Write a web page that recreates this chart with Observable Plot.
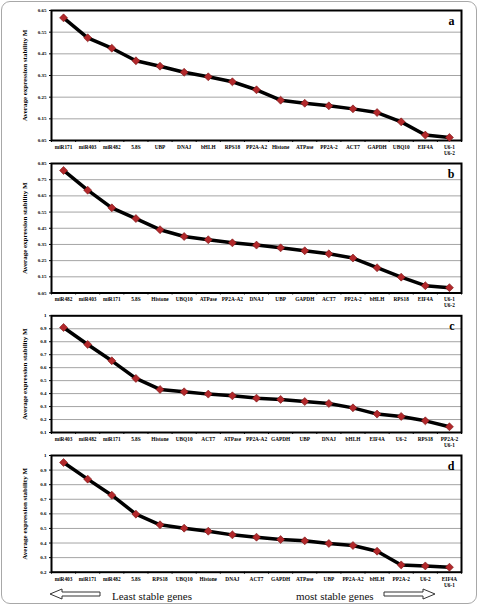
<!DOCTYPE html>
<html><head><meta charset="utf-8">
<script src="https://cdn.jsdelivr.net/npm/d3@7"></script>
<script src="https://cdn.jsdelivr.net/npm/@observablehq/plot@0.6"></script>
<style>
body{margin:0;background:#fff;}
#wrap{position:relative;width:481px;height:606px;overflow:hidden;}
#frame{position:absolute;left:1px;top:1px;width:476px;height:603px;border:1px solid #a8a8a8;border-radius:9px;box-sizing:border-box;}
#wrap svg{position:absolute;left:0;}
</style></head><body><div id="wrap"><div id="frame"></div></div>
<script>
// Panel a
const genesA = ["miR171","miR403","miR482","5.8S","UBP","DNAJ","bHLH","RPS18","PP2A-A2","Histone","ATPase","PP2A-2","ACT7","GAPDH","UBQ10","EIF4A","U6-1\nU6-2"];
const valuesA = [0.616,0.524,0.476,0.418,0.393,0.365,0.344,0.321,0.284,0.236,0.222,0.210,0.196,0.179,0.136,0.075,0.064];
const ticksA = [0.05,0.15,0.25,0.35,0.45,0.55,0.65];
// Panel b
const genesB = ["miR482","miR403","miR171","5.8S","Histone","UBQ10","ATPase","PP2A-A2","DNAJ","UBP","GAPDH","ACT7","PP2A-2","bHLH","RPS18","EIF4A","U6-1\nU6-2"];
const valuesB = [0.807,0.685,0.576,0.510,0.441,0.399,0.379,0.360,0.346,0.329,0.311,0.292,0.266,0.206,0.148,0.095,0.083];
const ticksB = [0.05,0.15,0.25,0.35,0.45,0.55,0.65,0.75,0.85];
// Panel c
const genesC = ["miR403","miR482","miR171","5.8S","Histone","UBQ10","ACT7","ATPase","PP2A-A2","GAPDH","UBP","DNAJ","bHLH","EIF4A","U6-2","RPS18","PP2A-2\nU6-1"];
const valuesC = [0.910,0.779,0.653,0.517,0.432,0.414,0.396,0.383,0.365,0.355,0.339,0.324,0.290,0.242,0.224,0.190,0.144];
const ticksC = [0.1,0.2,0.3,0.4,0.5,0.6,0.7,0.8,0.9,1];
// Panel d
const genesD = ["miR403","miR171","miR482","5.8S","RPS18","UBQ10","Histone","DNAJ","ACT7","GAPDH","ATPase","UBP","PP2A-A2","bHLH","PP2A-2","U6-2","EIF4A\nU6-1"];
const valuesD = [0.952,0.838,0.728,0.598,0.525,0.502,0.481,0.456,0.440,0.424,0.415,0.397,0.383,0.344,0.250,0.243,0.234];
const ticksD = [0.2,0.3,0.4,0.5,0.6,0.7,0.8,0.9,1];

const yTitle = "Average expression stability M";
const serif = "'Liberation Serif','Times New Roman',serif";

function panel(genes, values, yTicks, letter, top, marginTop, frameH, height) {
  const n = genes.length;
  const idx = d3.range(n);
  const data = values.map((v, i) => ({i, v}));
  const chart = Plot.plot({
    width: 481, height,
    marginLeft: 51, marginRight: 20, marginTop,
    marginBottom: height - marginTop - frameH,
    style: {fontFamily: serif, background: "transparent", overflow: "visible", color: "#000"},
    x: {domain: [-0.5, n - 0.5], axis: null},
    y: {domain: [yTicks[0], yTicks[yTicks.length - 1]], axis: null},
    marks: [
      Plot.gridY(yTicks.slice(1, -1), {stroke: "#a4a4a4", strokeOpacity: 1, strokeWidth: 1}),
      Plot.axisY(yTicks, {tickSize: 2, tickPadding: 3, fontSize: 5, fontWeight: "bold", label: null,
        tickFormat: d => String(+d.toFixed(2))}),
      Plot.axisX(idx, {tickSize: 0, tickPadding: 4, fontSize: 5.3, fontWeight: "bold", label: null,
        lineHeight: 1.15, tickFormat: i => genes[i]}),
      Plot.axisX(d3.range(n + 1).map(i => i - 0.5), {tickSize: 2, tickFormat: () => "", label: null}),
      Plot.frame({stroke: "#000", strokeWidth: 2}),
      Plot.line(data, {x: "i", y: "v", stroke: "#000", strokeWidth: 3.5, curve: "linear"}),
      Plot.dot(data, {x: "i", y: "v", symbol: "diamond2", r: 3.6, fill: "#b2282b", stroke: "#7a1515", strokeWidth: 0.6}),
      Plot.text([letter], {frameAnchor: "top-right", dx: -7, dy: 6, fontSize: 12, fontWeight: "bold"}),
      Plot.text([yTitle], {frameAnchor: "left", textAnchor: "middle", lineAnchor: "middle", rotate: -90, dx: -27, fontSize: 7, fontWeight: "bold"})
    ]
  });
  chart.style.top = top + "px";
  document.getElementById("wrap").appendChild(chart);
}

panel(genesA, valuesA, ticksA, "a", 0, 10, 130, 156);
panel(genesB, valuesB, ticksB, "b", 156, 7, 129.5, 152);
panel(genesC, valuesC, ticksC, "c", 308, 7.3, 116.7, 140);
panel(genesD, valuesD, ticksD, "d", 448, 7, 116.7, 140);

// footer annotation
const foot = `<svg width="481" height="22" style="top:584px" xmlns="http://www.w3.org/2000/svg" font-family="${serif}">
  <polygon points="50,10 62,5 62,8 100,8 100,12 62,12 62,15" fill="#fff" stroke="#333" stroke-width="1"/>
  <text x="112" y="16" font-size="11" fill="#111">Least stable genes</text>
  <text x="296" y="16" font-size="11" fill="#111">most stable genes</text>
  <polygon points="435,10 423,5 423,8 384,8 384,12 423,12 423,15" fill="#fff" stroke="#333" stroke-width="1"/>
</svg>`;
document.getElementById("wrap").insertAdjacentHTML("beforeend", foot);
</script>
</body></html>
